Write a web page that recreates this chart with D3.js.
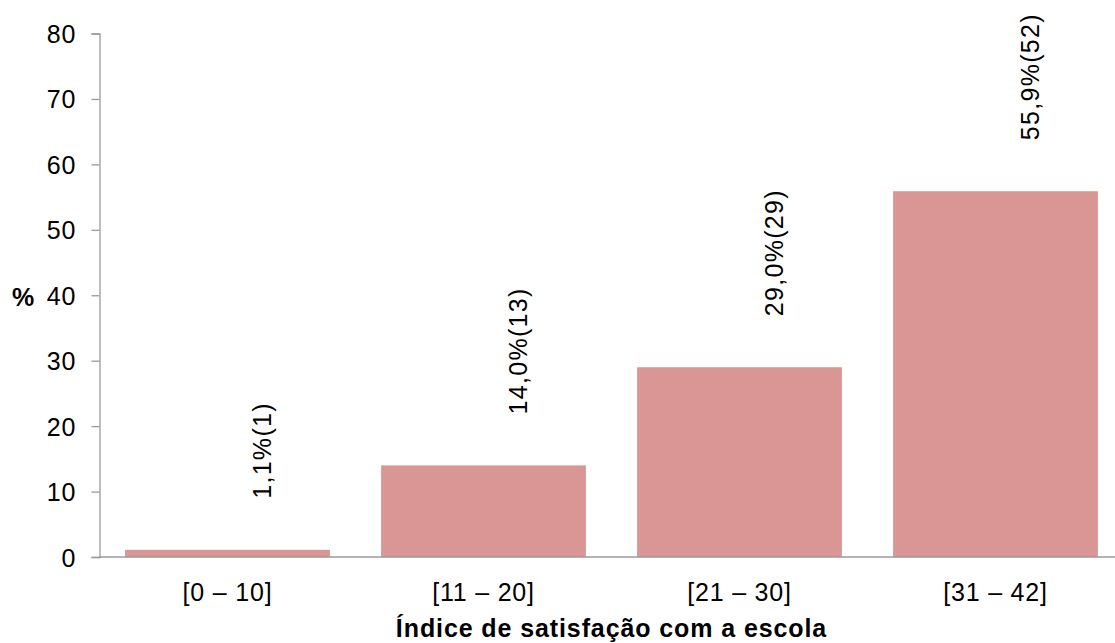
<!DOCTYPE html>
<html>
<head>
<meta charset="utf-8">
<script src="https://cdn.jsdelivr.net/npm/d3@7"></script>
<style>
  html, body { margin: 0; padding: 0; background: #fff; }
  svg { display: block; font-family: "Liberation Sans", Arial, sans-serif; }
</style>
</head>
<body>
<svg id="chart" width="1115" height="643"></svg>
<script>
// Satisfaction index classes, share of respondents (%) and counts
const categories = ["[0 – 10]", "[11 – 20]", "[21 – 30]", "[31 – 42]"];
const percentages = [1.1, 14.0, 29.0, 55.9];
const counts = [1, 13, 29, 52];
const valueLabels = ["1,1%(1)", "14,0%(13)", "29,0%(29)", "55,9%(52)"];
const yTicks = [0, 10, 20, 30, 40, 50, 60, 70, 80];

const svg = d3.select("#chart");
const axisColor = "#9a9a9a";
const barColor = "#d99694";

const x = d3.scaleBand()
  .domain(categories)
  .range([99.5, 1123.5])
  .paddingInner(0.2)
  .paddingOuter(0.1);

const y = d3.scaleLinear()
  .domain([0, 80])
  .range([557, 33.5]);

// Bars
svg.append("g")
  .selectAll("rect")
  .data(categories)
  .join("rect")
  .attr("x", d => x(d))
  .attr("y", (d, i) => y(percentages[i]))
  .attr("width", x.bandwidth())
  .attr("height", (d, i) => y(0) - y(percentages[i]))
  .attr("fill", barColor);

// Y axis
const yAxis = svg.append("g")
  .attr("transform", "translate(99.5,0)")
  .call(d3.axisLeft(y).tickValues(yTicks).tickSize(8).tickPadding(15).tickFormat(d3.format("d")));
yAxis.select(".domain").attr("stroke", axisColor).attr("stroke-width", 1.3);
yAxis.selectAll(".tick line").attr("stroke", axisColor).attr("stroke-width", 1.3);
yAxis.selectAll(".tick text")
  .attr("fill", "#000")
  .style("font-size", "25px")
  .style("letter-spacing", "1px")
  .attr("dy", "0.36em");

// X axis
const xAxis = svg.append("g")
  .attr("transform", `translate(0,${y(0)})`)
  .call(d3.axisBottom(x).tickSize(0).tickPadding(0));
xAxis.select(".domain").attr("stroke", axisColor).attr("stroke-width", 1.3)
  .attr("d", `M99.5,0H1115`);
xAxis.selectAll(".tick text")
  .attr("fill", "#000")
  .attr("dy", null)
  .attr("y", 44)
  .style("font-size", "25px")
  .style("letter-spacing", "0.8px");

// Value labels, rotated, above each bar
svg.append("g")
  .selectAll("text")
  .data(categories)
  .join("text")
  .attr("transform", (d, i) => `translate(${x(d) + x.bandwidth() / 2 + 43},${y(percentages[i]) - 51}) rotate(-90)`)
  .attr("text-anchor", "start")
  .style("font-size", "25px")
  .style("letter-spacing", "1.3px")
  .attr("fill", "#000")
  .text((d, i) => valueLabels[i]);

// Axis titles
svg.append("text")
  .attr("x", 23)
  .attr("y", 306)
  .attr("text-anchor", "middle")
  .style("font-size", "25px")
  .style("font-weight", "bold")
  .text("%");

svg.append("text")
  .attr("x", 611.5)
  .attr("y", 637)
  .attr("text-anchor", "middle")
  .style("font-size", "25px")
  .style("font-weight", "bold")
  .style("letter-spacing", "0.9px")
  .text("Índice de satisfação com a escola");
</script>
</body>
</html>
